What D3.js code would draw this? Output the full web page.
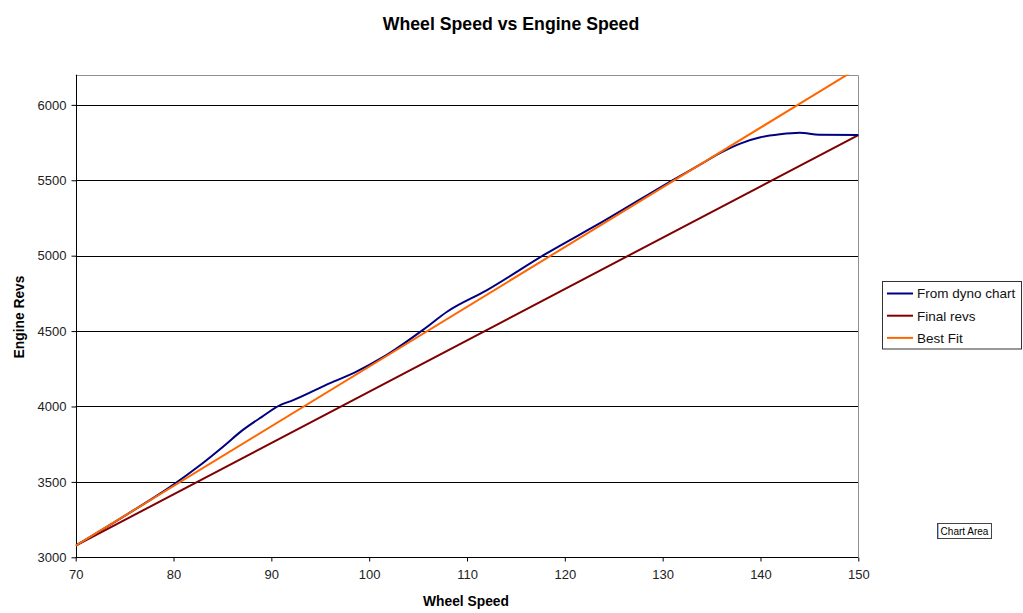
<!DOCTYPE html>
<html><head><meta charset="utf-8">
<script src="https://cdn.jsdelivr.net/npm/d3@7"></script>
<style>body{margin:0;background:#fff;}svg{display:block;font-family:"Liberation Sans",Arial,sans-serif;}</style>
</head><body>
<svg id="c" width="1023" height="613"></svg>
<script>
const dynoSpeed = [70,75,80,82.5,85,87,89,91,92,96,98.5,101.5,105.5,108,112,118,124,131,134,136,138,140,142,144,146,150];
const dynoRevs  = [3077,3275,3482,3600,3730,3840,3930,4012,4036,4155,4225,4330,4508,4630,4770,5010,5230,5500,5610,5685,5745,5785,5805,5815,5802,5800];
const finalSpeed = [70,150];
const finalRevs  = [3077,5800];
const fitSpeed = [70,150];
const fitRevs  = [3077,6245];
const xTicks = [70,80,90,100,110,120,130,140,150];
const yTicks = [3000,3500,4000,4500,5000,5500,6000];
const seriesNames = ["From dyno chart","Final revs","Best Fit"];
const seriesColors = ["#000080","#800000","#FF6600"];

const svg = d3.select("#c");
const L=75.7, R=858.3, T=74.7, B=557.3;
const x = d3.scaleLinear().domain([70,150]).range([L,R]);
const y = d3.scaleLinear().domain([3000,6200]).range([B,T]);

svg.append("text").attr("x",511).attr("y",30).attr("text-anchor","middle")
  .attr("font-weight","bold").attr("font-size","17.7px").text("Wheel Speed vs Engine Speed");

// gridlines
svg.append("g").selectAll("line").data(yTicks.filter(d=>d>3000)).join("line")
  .attr("x1",L).attr("x2",R).attr("y1",d=>Math.round(y(d))+0.5).attr("y2",d=>Math.round(y(d))+0.5)
  .attr("stroke","#000").attr("stroke-width",1);

// border top/right
svg.append("path").attr("d",`M${L},${Math.round(T)+0.5}H${Math.round(R)+0.5}V${B}`).attr("fill","none").attr("stroke","#909090");

const yAx = svg.append("g").attr("transform",`translate(${Math.round(L)+0.5},0)`)
  .call(d3.axisLeft(y).tickValues(yTicks).tickSize(5).tickPadding(5).tickFormat(d3.format("d")));
yAx.select(".domain").attr("d",`M0,${T}V${B}`).attr("stroke","#000");
yAx.selectAll("text").attr("font-size","13px").attr("fill","#222").attr("font-family","Liberation Sans, Arial, sans-serif");

const xAx = svg.append("g").attr("transform",`translate(0,${Math.round(B)+0.5})`)
  .call(d3.axisBottom(x).tickValues(xTicks).tickSize(4).tickPadding(8).tickFormat(d3.format("d")));
xAx.select(".domain").attr("d",`M${L},0H${R}`).attr("stroke","#000");
xAx.selectAll("text").attr("font-size","13px").attr("fill","#222").attr("font-family","Liberation Sans, Arial, sans-serif");

svg.append("text").attr("x",466).attr("y",606).attr("text-anchor","middle")
  .attr("font-weight","bold").attr("font-size","13.8px").text("Wheel Speed");
svg.append("text").attr("transform","translate(23.5,317) rotate(-90)").attr("text-anchor","middle")
  .attr("font-weight","bold").attr("font-size","13.8px").text("Engine Revs");

svg.append("clipPath").attr("id","clip").append("rect").attr("x",L).attr("y",T).attr("width",R-L+1).attr("height",B-T);
const g = svg.append("g").attr("clip-path","url(#clip)");
const line = d3.line().x(d=>x(d[0])).y(d=>y(d[1]));
const data = [
  d3.zip(dynoSpeed,dynoRevs),
  d3.zip(finalSpeed,finalRevs),
  d3.zip(fitSpeed,fitRevs)
];
g.append("path").datum(data[1]).attr("d",line).attr("fill","none").attr("stroke",seriesColors[1]).attr("stroke-width",2);
g.append("path").datum(data[0]).attr("d",d3.line().x(d=>x(d[0])).y(d=>y(d[1])).curve(d3.curveMonotoneX)).attr("fill","none").attr("stroke",seriesColors[0]).attr("stroke-width",2);
g.append("path").datum(data[2]).attr("d",line).attr("fill","none").attr("stroke",seriesColors[2]).attr("stroke-width",2);

// legend
const lg = svg.append("g");
lg.append("rect").attr("x",882.5).attr("y",281.5).attr("width",139).attr("height",67.5).attr("fill","#fff").attr("stroke","#333");
seriesNames.forEach((n,i)=>{
  const cy = 293.5 + i*22.2;
  lg.append("line").attr("x1",887).attr("x2",913).attr("y1",cy).attr("y2",cy).attr("stroke",seriesColors[i]).attr("stroke-width",2);
  lg.append("text").attr("x",917).attr("y",cy+4.8).attr("font-size","13.5px").attr("fill","#111").text(n);
});

// tooltip box
svg.append("rect").attr("x",937.5).attr("y",523.5).attr("width",54).attr("height",15).attr("fill","#fff").attr("stroke","#444");
svg.append("line").attr("x1",938.5).attr("x2",938.5).attr("y1",524).attr("y2",538).attr("stroke","#9bb8ff");
svg.append("text").attr("x",964.5).attr("y",535).attr("text-anchor","middle").attr("font-size","10px").attr("fill","#000").text("Chart Area");
</script>
</body></html>
